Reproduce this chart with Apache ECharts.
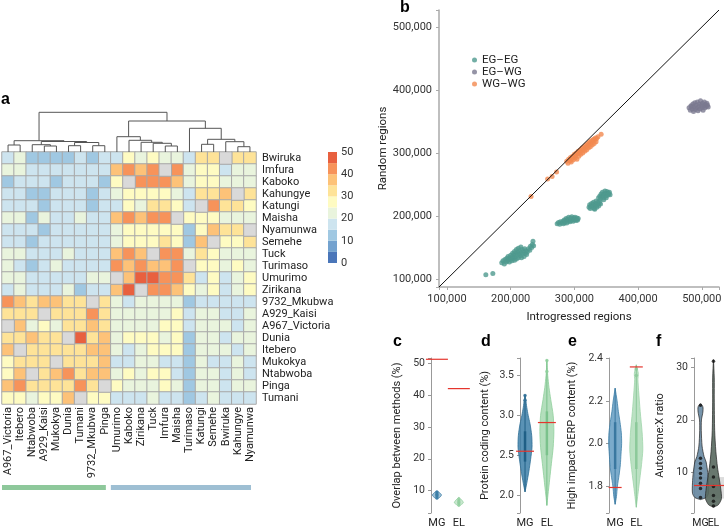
<!DOCTYPE html>
<html><head><meta charset="utf-8">
<script src="https://cdn.jsdelivr.net/npm/echarts/dist/echarts.min.js"></script>
<style>html,body{margin:0;padding:0;background:#fff}#c{width:727px;height:530px}</style>
</head><body><div id="c"></div>
<script>
// ---------------- DATA ----------------
const cols = ['A967_Victoria','Itebero','Ntabwoba','A929_Kaisi','Mukokya','Dunia','Tumani','9732_Mkubwa','Pinga','Umurimo','Kaboko','Zirikana','Tuck','Imfura','Maisha','Turimaso','Katungi','Semehe','Bwiruka','Kahungye','Nyamunwa'];
const rows = ['Bwiruka','Imfura','Kaboko','Kahungye','Katungi','Maisha','Nyamunwa','Semehe','Tuck','Turimaso','Umurimo','Zirikana','9732_Mkubwa','A929_Kaisi','A967_Victoria','Dunia','Itebero','Mukokya','Ntabwoba','Pinga','Tumani'];
const matrix = [
[18,22,12,12,12,12,18,12,18,18,27,22,27,22,22,18,32,32,null,32,32],
[22,22,18,18,18,18,18,18,18,36,42,37,42,null,42,22,27,27,18,22,22],
[12,18,18,18,12,18,18,18,12,27,null,42,42,42,37,22,27,27,22,22,22],
[18,18,12,12,18,18,18,12,18,22,27,27,27,27,22,18,32,32,37,null,32],
[18,18,18,12,18,18,18,12,18,18,27,22,32,32,27,18,null,42,32,32,27],
[22,22,12,22,18,18,22,18,18,37,42,37,42,42,null,27,27,27,22,22,22],
[18,18,18,12,18,18,18,18,18,22,27,27,27,27,27,12,27,36,32,32,null],
[18,18,12,18,18,18,18,18,18,22,27,27,27,32,27,12,37,null,27,27,32],
[22,22,18,18,18,22,18,18,18,37,42,37,null,42,42,22,32,27,22,22,22],
[22,18,12,18,22,18,18,18,18,42,37,42,37,37,42,null,27,27,22,27,22],
[22,22,18,18,18,18,18,22,22,null,37,47,47,42,42,32,18,27,18,22,27],
[18,22,18,18,18,22,12,18,18,37,47,null,42,42,37,27,22,27,18,22,27],
[42,37,32,37,36,32,32,null,32,22,18,22,22,22,22,12,18,18,18,18,18],
[32,32,32,null,32,32,32,42,32,22,22,22,22,22,27,18,22,22,18,18,22],
[null,37,22,27,22,32,32,37,32,22,22,22,22,27,27,18,22,22,22,18,22],
[32,32,37,32,32,null,47,32,37,22,27,27,27,22,27,12,22,22,18,22,22],
[37,null,32,32,32,32,32,37,37,22,18,22,27,27,27,12,22,22,22,18,22],
[27,32,32,32,null,32,32,32,37,18,18,22,22,18,18,12,22,18,18,22,18],
[27,37,null,32,37,42,32,37,37,22,27,22,27,27,18,12,22,22,18,22,18],
[37,42,32,32,32,32,42,32,null,27,22,22,22,27,22,12,22,22,18,22,22],
[27,27,22,27,27,37,null,27,27,18,18,18,22,18,18,12,18,22,18,18,18]
];
// dendrogram merges: [childA, childB, height]; leaves 0..20, merge k -> 21+k
const merges = [
[0,1,7],[3,4,6],[2,22,7.3],[5,6,6.3],[7,8,6.3],[24,25,9.5],[23,26,10.5],[21,27,11.3],
[13,14,6],[12,29,8.7],[11,30,9.7],[10,31,11.7],[9,32,15.3],
[16,17,7.7],[19,20,5.3],[18,35,10.3],[34,36,12.7],[15,37,23.7],[33,38,31],[28,39,39.7]
];
const groupNames = ['EL','MG'];
const groupStart = [0,9];
const groupEnd = [9,21];
const cbBins = [0,5,10,15,20,25,30,35,40,45];
const cbTicks = [0,10,20,30,40,50];

// panel b (thousands)
const egeg = [[161,107],[172,109],
[186,126],[188,129],[190,124],[191,131],[193,127],[194,133],[195,129],[196,136],[197,131],[198,127],[199,134],[200,138],[201,132],[202,129],[203,141],[203,136],[204,133],[205,139],[206,144],[206,130],[207,135],[208,141],[209,147],[209,132],[210,138],[211,143],[212,149],[212,134],[213,140],[214,145],[215,137],[216,142],[216,151],[217,134],[218,147],[219,140],[220,144],[221,136],[222,148],[223,141],[224,145],[225,139],[226,143],[228,148],[230,146],[231,152],[233,150],[234,155],[235,160],[236,153],
[273,188],[275,190],[277,187],[278,191],[280,189],[282,192],[283,188],[284,194],[285,190],[286,193],[287,196],[288,189],[289,195],[290,192],[291,198],[292,194],[293,191],[294,197],[295,193],[296,199],[297,195],[298,192],[299,197],[300,194],[301,198],[302,195],[303,193],[304,197],[305,194],[306,196],
[323,214],[324,218],[325,212],[326,216],[327,220],[328,214],[329,218],[330,222],[331,212],[332,216],[333,220],[334,224],[335,214],[336,218],[337,222],[338,216],[339,220],[340,224],[341,219],[332,211],
[338,229],[340,232],[341,228],[342,235],[343,231],[344,238],[345,233],[346,229],[347,236],[348,240],[349,232],[350,236],[351,239],[352,233],[353,237],[354,235],[355,238],[356,234],[346,226],[350,229]];
const egwg = [[480,372],[482,368],[483,375],[485,370],[486,378],[487,366],[488,373],[489,380],[490,369],[491,376],[492,372],[493,381],[494,367],[495,374],[496,378],[497,370],[498,383],[499,376],[500,372],[501,379],[502,368],[503,375],[504,381],[505,372],[506,377],[507,374],[508,379],[509,376],[510,373],[484,374]];
const wgwg = [[232,231],[258,259],[265,263],[272,270],
[288,287],[290,284],[291,290],[293,288],[294,293],[295,286],[296,291],[297,295],[298,289],[299,294],[300,298],[301,292],[302,296],[303,300],[304,290],[305,299],[306,303],[307,295],[308,301],[309,305],[310,298],[311,304],[312,308],[313,300],[314,306],[315,310],[316,303],[317,309],[318,313],[319,305],[320,311],[321,315],[322,308],[323,314],[324,318],[325,310],[326,316],[327,320],[328,313],[329,319],[330,322],[331,315],[332,321],[333,324],[334,318],[335,323],[337,326],[342,330]];
const bMin = 87.5, bMax = 527;

// panels c-f : shapes [value, relative density]
const cShapes = [
 [[7.4,0],[7.8,0.5],[8.3,0.9],[8.7,1],[9.2,0.7],[9.6,0.4],[9.9,0]],
 [[5.1,0],[5.6,0.5],[6.2,1],[6.8,0.8],[7.4,0.4],[7.9,0]]];
const cPoints = [[7.6,8.0,8.3,8.5,8.7,8.9,9.1,9.4,9.7],[5.4,5.9,6.1,6.3,6.5,6.8,7.1,7.5]];
const cRef = [51.2, 42.0];

const dShapes = [
 [[2.04,0],[2.15,0.25],[2.3,0.55],[2.45,0.8],[2.6,1],[2.75,0.95],[2.9,0.7],[3.0,0.45],[3.1,0.25],[3.2,0.1],[3.26,0]],
 [[1.87,0],[2.0,0.15],[2.2,0.4],[2.4,0.65],[2.6,0.9],[2.8,1],[3.0,0.9],[3.2,0.55],[3.35,0.3],[3.5,0.12],[3.6,0.05],[3.7,0]]];
const dBoxes = [[2.42,2.8],[2.5,3.05]];
const dPoints = [[3.19,3.25],[3.55,3.69]];
const dRef = [2.55, 2.91];

const eShapes = [
 [[1.714,0],[1.75,0.2],[1.8,0.35],[1.85,0.6],[1.9,0.8],[1.95,0.9],[2.0,1],[2.05,0.95],[2.1,0.75],[2.15,0.5],[2.2,0.3],[2.26,0]],
 [[1.70,0],[1.75,0.2],[1.8,0.4],[1.9,0.8],[1.97,1],[2.05,0.9],[2.15,0.6],[2.25,0.35],[2.3,0.25],[2.33,0.3],[2.37,0]]];
const eBoxes = [[1.88,2.1],[1.88,2.1]];
const ePoints = [[],[2.32,2.35]];
const eRef = [1.793, 2.36];

const fShapes = [
 [[4.8,0],[5.2,0.7],[6,1],[8,1],[10,0.9],[12,0.7],[13,0.45],[15,0.2],[18,0.1],[20,0.12],[21.5,0.3],[22.5,0.3],[23.1,0]],
 [[3.4,0],[3.8,0.6],[5,1],[7,0.9],[9,0.7],[11,0.5],[14,0.3],[18,0.15],[24,0.1],[28,0.1],[31.5,0]]];
const fPoints = [[5.2,6.9,7.9,8.9,9.8,10.8,11.7,12.7,22.8],[3.6,4.5,5.6,7.3,9.1,11,31.2]];
const fBand = [5.0, 9.1];
const fRef = 7.6;

// ---------------- STYLE ----------------
const F = 'Roboto, "Noto Sans", sans-serif';
const cbColors = ['#4a76b9','#73a2cf','#a0c8e2','#cde4ef','#e9f4dd','#fefbc2','#fee398','#fdc278','#f7935a','#e8603f'];
const groupColors = ['#8ec89b','#9ebfd3'];
const MGc = '#3d7fa8', ELc = '#93d0a0';

const chart = echarts.init(document.getElementById('c'), null, {renderer:'canvas'});

const hmData = [], naData = [];
matrix.forEach((r, ri) => r.forEach((v, ci) => { if (v == null) naData.push([ci, ri, 0]); else hmData.push([ci, ri, v]); }));

// dendrogram geometry from merges
const nLeaf = cols.length;
const nodeX = [], nodeH = [];
for (let i = 0; i < nLeaf; i++) { nodeX[i] = i + 0.5; nodeH[i] = 0; }
merges.forEach((m, k) => { nodeX[nLeaf + k] = (nodeX[m[0]] + nodeX[m[1]]) / 2; nodeH[nLeaf + k] = m[2]; });

const grids = [
 {left:2, top:152, width:254, height:252},   // 0 heatmap
 {left:2, top:105, width:254, height:47},    // 1 dendrogram
 {left:328, top:152, width:9, height:111},   // 2 colorbar
 {left:2, top:485, width:254, height:5},     // 3 group bars
 {left:439, top:10, width:280, height:277},  // 4 scatter
 {left:431, top:358, width:41, height:155},  // 5 c
 {left:520, top:358, width:40, height:155},  // 6 d
 {left:609, top:358, width:40, height:155},  // 7 e
 {left:694, top:358, width:40, height:155}   // 8 f
];
const hidden = {axisLine:{show:false}, axisTick:{show:false}, axisLabel:{show:false}, splitLine:{show:false}};

function pY(gi, min, max, name, gap, split, step, dec) {
  return {type:'value', gridIndex:gi, min, max, splitNumber:split, name, nameLocation:'middle', nameGap:gap,
    nameTextStyle:{fontSize:11, color:'#222', fontFamily:F},
    axisLine:{show:true, lineStyle:{color:'#999', width:1}}, axisTick:{show:true, length:3, lineStyle:{color:'#999'}},
    splitLine:{show:false},
    axisLabel:{fontSize:10.5, color:'#333', margin:6, fontFamily:F,
      formatter: v => Math.abs(v/step - Math.round(v/step)) < 1e-6 ? v.toFixed(dec) : ''}};
}
function pX(gi, min, max, fs) {
  return {type:'value', gridIndex:gi, min, max, splitNumber:2, axisLine:{show:false}, axisTick:{show:false}, splitLine:{show:false},
    axisLabel:{fontSize:fs, color:'#222', margin:5, fontFamily:F, formatter: v => v === 1 ? 'MG' : (v === 2 ? 'EL' : '')}};
}
function violin(gi, shapes, fills, strokes, hw, boxes, inner, lw) {
  return {type:'custom', xAxisIndex:gi, yAxisIndex:gi, z:3,
    data: shapes.map((s, i) => [i + 1, s[0][0], i]), encode:{x:0, y:1},
    renderItem(p, api) {
      const x = api.value(0), i = api.value(2), s = shapes[i];
      const L = [], R = [];
      s.forEach(([v, d]) => { const pt = api.coord([x, v]); L.push([pt[0] - d*hw, pt[1]]); R.push([pt[0] + d*hw, pt[1]]); });
      const ch = [{type:'polygon', shape:{points:L.concat(R.reverse()), smooth:0.25}, style:{fill:fills[i], stroke:strokes[i], lineWidth:lw}}];
      if (boxes) {
        const a = api.coord([x, s[0][0]]), z = api.coord([x, s[s.length-1][0]]);
        ch.push({type:'line', shape:{x1:a[0], y1:a[1], x2:z[0], y2:z[1]}, style:{stroke:inner[i], lineWidth:1}});
        const q1 = api.coord([x, boxes[i][0]]), q3 = api.coord([x, boxes[i][1]]);
        ch.push({type:'line', shape:{x1:q1[0], y1:q1[1], x2:q3[0], y2:q3[1]}, style:{stroke:inner[i], lineWidth:2.5}});
      }
      return {type:'group', children:ch};
    }};
}
function dots(gi, pts, colors, size) {
  const out = [];
  pts.forEach((arr, i) => out.push({type:'scatter', xAxisIndex:gi, yAxisIndex:gi, z:4, symbolSize:size,
     itemStyle:{color:colors[i]}, data: arr.map(v => [i + 1, v])}));
  return out;
}
function refLines(gi, vals, hw) {
  return {type:'custom', xAxisIndex:gi, yAxisIndex:gi, z:6, data: vals.map((v, i) => [i + 1, v]),
    renderItem(p, api) { const pt = api.coord([api.value(0), api.value(1)]);
      return {type:'line', shape:{x1:pt[0]-hw, y1:pt[1], x2:pt[0]+hw, y2:pt[1]}, style:{stroke:'#e5352d', lineWidth:1.2}}; }};
}
const fmtK = v => (Math.abs(v % 100) < 1e-6) ? (v*1000).toLocaleString('en-US') : '';

const option = {
  animation:false,
  textStyle:{fontFamily:F},
  grid: grids,
  visualMap: {type:'piecewise', show:false, seriesIndex:0, dimension:2,
    pieces: cbBins.map((lo, i) => ({min:lo, max:lo+5, color:cbColors[i]}))},
  legend: {data:['EG–EG','EG–WG','WG–WG'], orient:'vertical', left:467, top:49, itemWidth:5, itemHeight:5, itemGap:0,
    icon:'circle', textStyle:{fontSize:11.5, color:'#222', lineHeight:12, fontFamily:F}},
  xAxis: [
    {type:'category', gridIndex:0, data:cols, position:'bottom', axisLine:{show:false}, axisTick:{show:false}, splitLine:{show:false},
      axisLabel:{rotate:90, fontSize:11, color:'#222', margin:3, interval:0, fontFamily:F}},
    Object.assign({type:'value', gridIndex:1, min:0, max:nLeaf}, hidden),
    Object.assign({type:'value', gridIndex:2, min:0, max:1}, hidden),
    Object.assign({type:'value', gridIndex:3, min:0, max:nLeaf}, hidden),
    {type:'value', gridIndex:4, min:bMin, max:bMax, splitNumber:5, name:'Introgressed regions', nameLocation:'middle', nameGap:24,
      nameTextStyle:{fontSize:11.5, color:'#222', fontFamily:F},
      axisLine:{lineStyle:{color:'#aaa', width:1.5}}, axisTick:{show:true, length:3, lineStyle:{color:'#aaa'}}, splitLine:{show:false},
      axisLabel:{fontSize:11, color:'#333', margin:7, formatter:fmtK, fontFamily:F}},
    pX(5, 0.73, 2.6, 11), pX(6, 0.77, 2.6, 11), pX(7, 0.71, 2.6, 11), pX(8, 0.5, 2.812, 10.5)
  ],
  yAxis: [
    {type:'category', gridIndex:0, data:rows, inverse:true, position:'right', axisLine:{show:false}, axisTick:{show:false}, splitLine:{show:false},
      axisLabel:{fontSize:11, color:'#222', margin:6, interval:0, fontFamily:F}},
    Object.assign({type:'value', gridIndex:1, min:0, max:47}, hidden),
    {type:'value', gridIndex:2, min:0, max:50, interval:10, position:'right', axisLine:{show:false}, axisTick:{show:false}, splitLine:{show:false},
      axisLabel:{fontSize:11, color:'#333', margin:4, fontFamily:F}},
    Object.assign({type:'value', gridIndex:3, min:0, max:1}, hidden),
    {type:'value', gridIndex:4, min:bMin, max:bMax, splitNumber:5, name:'Random regions', nameLocation:'middle', nameGap:43,
      nameTextStyle:{fontSize:11.5, color:'#222', fontFamily:F},
      axisLine:{show:true, lineStyle:{color:'#aaa', width:1.5}}, axisTick:{show:true, length:3, lineStyle:{color:'#aaa'}}, splitLine:{show:false},
      axisLabel:{fontSize:11, color:'#333', margin:7, formatter:fmtK, fontFamily:F}},
    pY(5, 3, 51.6, 'Overlap between methods (%)', 28, 5, 10, 0),
    pY(6, 1.775, 3.72, 'Protein coding content (%)', 29, 4, 0.5, 1),
    pY(7, 1.673, 2.402, 'High impact GERP content (%)', 31, 3, 0.2, 1),
    pY(8, 2.25, 31.8, 'Autosome:X ratio', 28, 3, 10, 0)
  ],
  graphic: [
    {type:'text', left:1, top:92, style:{text:'a', font:'bold 16px Arial, sans-serif', fill:'#000'}},
    {type:'text', left:400, top:0, style:{text:'b', font:'bold 16px Arial, sans-serif', fill:'#000'}},
    {type:'text', left:393, top:334, style:{text:'c', font:'bold 16px Arial, sans-serif', fill:'#000'}},
    {type:'text', left:481, top:334, style:{text:'d', font:'bold 16px Arial, sans-serif', fill:'#000'}},
    {type:'text', left:568, top:334, style:{text:'e', font:'bold 16px Arial, sans-serif', fill:'#000'}},
    {type:'text', left:656, top:334, style:{text:'f', font:'bold 16px Arial, sans-serif', fill:'#000'}}
  ],
  series: [
    {type:'heatmap', xAxisIndex:0, yAxisIndex:0, data:hmData, itemStyle:{borderColor:'#a8a8a8', borderWidth:1}},
    {type:'heatmap', xAxisIndex:0, yAxisIndex:0, data:naData, itemStyle:{color:'#d9d9d9', borderColor:'#a8a8a8', borderWidth:1}},
    {type:'custom', xAxisIndex:1, yAxisIndex:1, data: merges.map((m, k) => [nodeX[nLeaf+k], m[2], k]), encode:{x:0, y:1},
      renderItem(p, api) {
        const k = api.value(2), m = merges[k];
        const a = m[0], b = m[1], h = m[2];
        const pts = [api.coord([nodeX[a], nodeH[a]]), api.coord([nodeX[a], h]), api.coord([nodeX[b], h]), api.coord([nodeX[b], nodeH[b]])];
        return {type:'polyline', shape:{points:pts}, style:{stroke:'#555', lineWidth:1, fill:null}};
      }},
    {type:'custom', xAxisIndex:2, yAxisIndex:2, data: cbBins.map((lo, i) => [0, lo, i]), encode:{x:0, y:1},
      renderItem(p, api) {
        const lo = api.value(1), i = api.value(2);
        const p1 = api.coord([0, lo + 5]), p2 = api.coord([1, lo]);
        return {type:'rect', shape:{x:p1[0], y:p1[1], width:p2[0]-p1[0], height:p2[1]-p1[1]}, style:{fill:cbColors[i]}};
      }},
    {type:'custom', xAxisIndex:3, yAxisIndex:3, data: groupStart.map((s, i) => [s, groupEnd[i], i]), encode:{x:[0,1]},
      renderItem(p, api) {
        const i = api.value(2);
        const p1 = api.coord([api.value(0), 1]), p2 = api.coord([api.value(1), 0]);
        return {type:'rect', shape:{x:p1[0], y:p1[1], width:p2[0]-p1[0]-5, height:p2[1]-p1[1]}, style:{fill:groupColors[i]}};
      }},
    {name:'EG–EG', type:'scatter', xAxisIndex:4, yAxisIndex:4, data:egeg, symbolSize:5, itemStyle:{color:'#4f9a8e'}},
    {name:'EG–WG', type:'scatter', xAxisIndex:4, yAxisIndex:4, data:egwg, symbolSize:5, itemStyle:{color:'#7a7990'}},
    {name:'WG–WG', type:'scatter', xAxisIndex:4, yAxisIndex:4, data:wgwg, symbolSize:5, itemStyle:{color:'#f28a50'}},
    {type:'line', xAxisIndex:4, yAxisIndex:4, data:[[bMin,bMin],[bMax,bMax]], symbol:'none', z:5, lineStyle:{color:'#111', width:1}},
    // c
    violin(5, cShapes, ['rgba(61,127,168,0.5)','rgba(147,208,160,0.5)'], [MGc, ELc], 4.5, null, null, 0.8),
    ...dots(5, cPoints, [MGc, ELc], 3),
    refLines(5, cRef, 11),
    // d
    violin(6, dShapes, ['rgba(61,127,168,0.85)','rgba(160,214,171,0.8)'], ['#2f6f96','#8fcf9c'], 7, dBoxes, ['#1f5f86','#7bc28c'], 0.8),
    ...dots(6, dPoints, ['#2f6f96','#8fcf9c'], 3.5),
    refLines(6, dRef, 9),
    // e
    violin(7, eShapes, ['rgba(90,150,190,0.8)','rgba(170,218,180,0.8)'], ['#3f80a8','#a0d6ab'], 6.5, eBoxes, ['#3a78a0','#8cc99a'], 0.8),
    ...dots(7, ePoints, ['#3f80a8','#8cc99a'], 3.5),
    refLines(7, eRef, 6.5),
    // f
    violin(8, fShapes, ['rgba(95,130,158,0.85)','rgba(88,104,94,0.9)'], ['#222','#222'], 8, null, null, 0.7),
    ...dots(8, fPoints, ['#111','#111'], 3.5),
    {type:'line', xAxisIndex:8, yAxisIndex:8, data:[], z:5,
      markArea:{silent:true, itemStyle:{color:'rgba(185,185,185,0.5)'}, data:[[{yAxis:fBand[0]},{yAxis:fBand[1]}]]},
      markLine:{silent:true, symbol:'none', label:{show:false}, lineStyle:{color:'#e5352d', width:1.2, type:'solid'}, data:[{yAxis:fRef}]}}
  ]
};
chart.setOption(option);
</script></body></html>
